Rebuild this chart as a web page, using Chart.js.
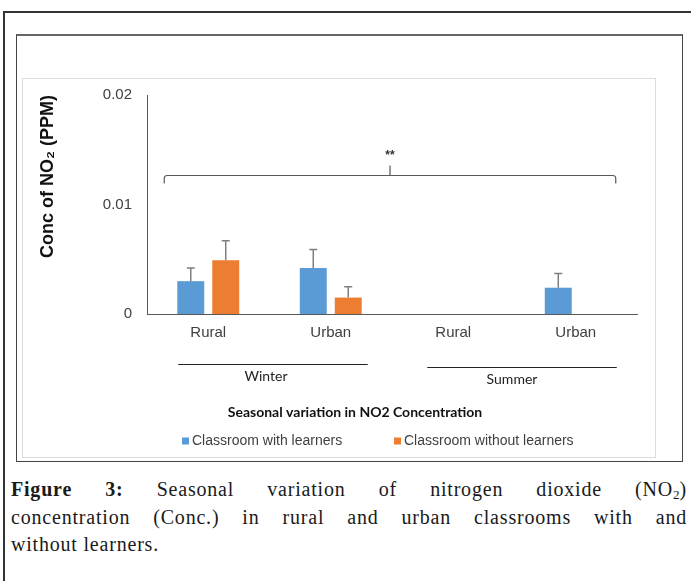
<!DOCTYPE html>
<html>
<head>
<meta charset="utf-8">
<script src="https://cdn.jsdelivr.net/npm/chart.js@4.4.1/dist/chart.umd.min.js"></script>
<style>
html, body { margin: 0; padding: 0; width: 691px; height: 581px; overflow: hidden; background: #fff; }
.frame { position: absolute; box-sizing: border-box; }
#outer { left: 3px; top: 11px; width: 720px; height: 600px; border-left: 2px solid #333; border-top: 2px solid #333; }
#inner { left: 16px; top: 34px; width: 667px; height: 428px; border: 1px solid #444; border-top: 2px solid #666; }
#plotBox { left: 22px; top: 78px; width: 634px; height: 380px; border: 1px solid #dcdcdc; }
#chart { position: absolute; left: 22px; top: 78px; }
#caption { position: absolute; left: 11px; top: 476px; width: 676px; font: 20px/27.6px 'Liberation Serif', serif; letter-spacing: 0.8px; color: #1a1a1a; }
#caption .jl { text-align: justify; text-align-last: justify; }
#caption sub { font-size: 13px; line-height: 0; vertical-align: -3px; letter-spacing: 0; }
</style>
</head>
<body>
<div class="frame" id="outer"></div>
<div class="frame" id="inner"></div>
<div class="frame" id="plotBox"></div>
<canvas id="chart" width="633" height="379"></canvas>
<div id="caption">
  <div class="jl"><b>Figure 3:</b> Seasonal variation of nitrogen dioxide (NO<sub>2</sub>)</div>
  <div class="jl">concentration (Conc.) in rural and urban classrooms with and</div>
  <div>without learners.</div>
</div>
<script>
// NO2 concentration (ppm), winter then summer, rural/urban
const categories = ['Rural', 'Urban', 'Rural', 'Urban'];
const seasons = ['Winter', 'Summer'];
const withLearners = [0.0030, 0.0042, null, 0.0024];
const withLearnersErr = [0.0012, 0.0017, null, 0.0013];
const withoutLearners = [0.0049, 0.0015, null, null];
const withoutLearnersErr = [0.0018, 0.0010, null, null];
const yTicks = [0, 0.01, 0.02];

const axisColor = '#595959';
const textColor = '#404040';

// error bars, season brackets, significance bracket, title and legend
const figureMarks = {
    id: 'figureMarks',
    afterDatasetsDraw(chart) {
        const ctx = chart.ctx;
        const x = chart.scales.x;
        const y = chart.scales.y;
        const area = chart.chartArea;
        ctx.save();

        ctx.strokeStyle = '#7f7f7f';
        ctx.lineWidth = 1.5;
        chart.data.datasets.forEach((ds, i) => {
            chart.getDatasetMeta(i).data.forEach((bar, j) => {
                const v = ds.data[j];
                const e = ds.errors[j];
                if (v == null || e == null) return;
                const top = y.getPixelForValue(v + e);
                ctx.beginPath();
                ctx.moveTo(bar.x, bar.y);
                ctx.lineTo(bar.x, top);
                ctx.moveTo(bar.x - 4, top);
                ctx.lineTo(bar.x + 4, top);
                ctx.stroke();
            });
        });

        // ** bracket over all groups
        const bl = x.getPixelForValue(0) - 44;
        const br = x.getPixelForValue(3) + 40;
        const bm = (x.getPixelForValue(1) + x.getPixelForValue(2)) / 2 - 2;
        const by = Math.round(y.getPixelForValue(0.0127)) + 0.5;
        ctx.strokeStyle = axisColor;
        ctx.lineWidth = 1.2;
        ctx.beginPath();
        ctx.moveTo(bl, by + 8);
        ctx.arcTo(bl, by, bl + 3, by, 3);
        ctx.lineTo(br - 3, by);
        ctx.arcTo(br, by, br, by + 3, 3);
        ctx.lineTo(br, by + 8);
        ctx.moveTo(bm, by);
        ctx.lineTo(bm, by - 10);
        ctx.stroke();
        ctx.fillStyle = '#333';
        ctx.font = 'bold 12px "Liberation Sans"';
        ctx.textAlign = 'center';
        ctx.textBaseline = 'middle';
        ctx.fillText('**', bm, by - 20);

        // season lines under the category labels
        const spans = [
            { label: seasons[0], from: x.getPixelForValue(0) - 30, to: x.getPixelForValue(1) + 37, dy: 50, shift: -7 },
            { label: seasons[1], from: x.getPixelForValue(2) - 26, to: x.getPixelForValue(3) + 41, dy: 53, shift: -10 }
        ];
        ctx.font = '14px Lato';
        spans.forEach(s => {
            const ly = area.bottom + s.dy + 0.5;
            ctx.strokeStyle = '#222';
            ctx.lineWidth = 1;
            ctx.beginPath();
            ctx.moveTo(s.from, ly);
            ctx.lineTo(s.to, ly);
            ctx.stroke();
            ctx.fillStyle = '#222';
            ctx.fillText(s.label, (s.from + s.to) / 2 + s.shift, ly + 12);
        });

        // chart title
        ctx.fillStyle = '#111';
        ctx.font = 'bold 14px Lato';
        ctx.fillText('Seasonal variation in NO2 Concentration', area.left + 208, area.bottom + 98);

        // legend
        const legendX = [area.left + 35, area.left + 247];
        const legendY = area.bottom + 127;
        ctx.font = '14px "Liberation Sans"';
        ctx.textAlign = 'left';
        chart.data.datasets.forEach((ds, i) => {
            ctx.fillStyle = ds.backgroundColor;
            ctx.fillRect(legendX[i], legendY - 3.5, 7, 7);
            ctx.fillStyle = textColor;
            ctx.fillText(ds.label, legendX[i] + 10, legendY);
        });
        ctx.restore();
    }
};

new Chart(document.getElementById('chart'), {
    type: 'bar',
    data: {
        labels: categories,
        datasets: [
            {
                label: 'Classroom with learners',
                data: withLearners,
                errors: withLearnersErr,
                backgroundColor: '#5b9bd5'
            },
            {
                label: 'Classroom without learners',
                data: withoutLearners,
                errors: withoutLearnersErr,
                backgroundColor: '#ed7d31'
            }
        ]
    },
    options: {
        responsive: false,
        animation: false,
        layout: { padding: { top: 17, right: 18, bottom: 113, left: 0 } },
        datasets: { bar: { categoryPercentage: 0.571, barPercentage: 0.771 } },
        plugins: { legend: { display: false }, tooltip: { enabled: false } },
        scales: {
            x: {
                grid: { display: false, drawTicks: false },
                border: { color: axisColor },
                ticks: { color: textColor, padding: 10, font: { family: 'Liberation Sans', size: 15 } },
                afterFit: s => { s.height = 30; }
            },
            y: {
                min: yTicks[0],
                max: yTicks[yTicks.length - 1],
                afterBuildTicks: s => { s.ticks = yTicks.map(v => ({ value: v })); },
                grid: { display: false, drawTicks: false },
                border: { color: axisColor },
                ticks: {
                    color: textColor,
                    padding: 15,
                    font: { family: 'Liberation Sans', size: 15 },
                    callback: v => v === 0 ? '0' : v.toFixed(2)
                },
                title: {
                    display: true,
                    text: 'Conc of NO\u2082 (PPM)',
                    align: 'end',
                    color: '#111',
                    padding: { top: 15, bottom: 0 },
                    font: { family: 'Liberation Sans', size: 18, weight: 'bold' }
                },
                // fixed width, and the tick padding must not push the top of the plot down
                afterFit: s => {
                    s.width = 125;
                    s.paddingTop = 0;
                    s.paddingBottom = 0;
                }
            }
        }
    },
    plugins: [figureMarks]
});
</script>
</body>
</html>
